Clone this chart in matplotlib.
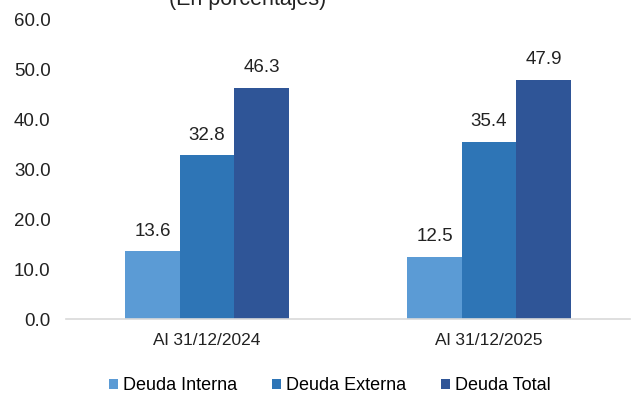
import matplotlib.pyplot as plt
import numpy as np

plt.rcParams['font.family'] = ['Liberation Sans', 'DejaVu Sans']

periodos = ['Al 31/12/2024', 'Al 31/12/2025']
series = ['Deuda Interna', 'Deuda Externa', 'Deuda Total']
interna = [13.6, 12.5]
externa = [32.8, 35.4]
total = [46.3, 47.9]
colores = ['#5B9BD5', '#2E75B6', '#2F5597']

fig = plt.figure(figsize=(6.32, 3.96), dpi=100)
ax = fig.add_axes([66 / 632, 77 / 396, 564 / 632, 300 / 396])

x = np.arange(len(periodos))
w = 0.193
for i, (vals, nombre, col) in enumerate(zip([interna, externa, total], series, colores)):
    pos = x + (i - 1) * w
    ax.bar(pos, vals, w, color=col, label=nombre, zorder=2)
    for p, v in zip(pos, vals):
        ax.text(p, v + 2.3, f'{v:.1f}', ha='center', va='bottom', fontsize=13.5, color='#222222')

ax.set_xlim(-0.5, 1.5)
ax.set_ylim(0, 60)
ax.set_yticks(np.arange(0, 61, 10))
ax.set_yticklabels([f'{t:.1f}' for t in np.arange(0, 61, 10)], fontsize=13.5, color='#222222')
ax.set_xticks(x)
ax.set_xticklabels(periodos, fontsize=12.5, color='#222222')
ax.tick_params(axis='y', length=0, pad=11)
ax.tick_params(axis='x', length=0, pad=10)
for s in ['top', 'right', 'left']:
    ax.spines[s].set_visible(False)
ax.spines['bottom'].set_color('#D9D9D9')
ax.spines['bottom'].set_linewidth(1.2)

fig.text(248 / 632, 1.0, '(En porcentajes)', ha='center', va='center', fontsize=15.5, color='#222222')

handles, labels = ax.get_legend_handles_labels()
fig.legend(handles, labels, loc='center', bbox_to_anchor=(330 / 632, 1 - 386 / 396), ncol=3,
           frameon=False, fontsize=13, handlelength=0.5, handleheight=0.5, handletextpad=0.3,
           columnspacing=1.9)

fig.savefig('out.png', dpi=100)
